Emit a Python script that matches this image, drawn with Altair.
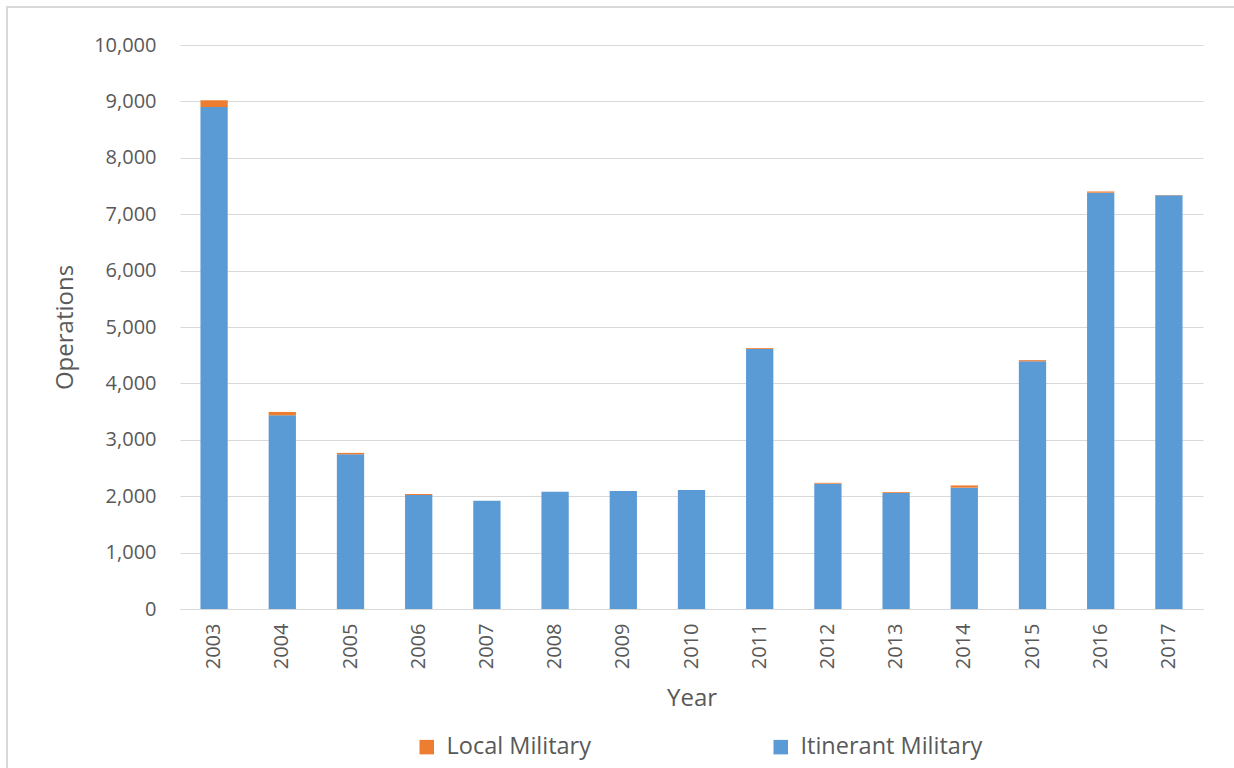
import altair as alt
import pandas as pd

# Annual military operations, split into itinerant and local
years = [str(y) for y in range(2003, 2018)]
itinerant = [8900, 3434, 2743, 2021, 1920, 2080, 2092, 2110, 4610, 2222, 2057, 2151, 4392, 7381, 7335]
local = [120, 60, 25, 18, 0, 0, 0, 0, 15, 15, 15, 40, 20, 22, 5]

series_names = ["Local Military", "Itinerant Military"]
series_colors = ["#ED7D31", "#5B9BD5"]
y_ticks = list(range(0, 10001, 1000))

rows = []
for yr, it, lo in zip(years, itinerant, local):
    rows.append({"Year": yr, "Series": "Itinerant Military", "Operations": it, "stack": 0})
    rows.append({"Year": yr, "Series": "Local Military", "Operations": lo, "stack": 1})
df = pd.DataFrame(rows)

FONT = "Open Sans"
TEXT = "#595959"
GRID = "#D9D9D9"

bars = alt.Chart(df).mark_bar().encode(
    x=alt.X(
        "Year:N",
        sort=years,
        scale=alt.Scale(paddingInner=0.6, paddingOuter=0.3),
        axis=alt.Axis(
            title="Year",
            labelAngle=-90,
            labelAlign="right",
            labelBaseline="middle",
            labelPadding=14,
            ticks=False,
            domainColor=GRID,
            domainWidth=1,
            titlePadding=18,
        ),
    ),
    y=alt.Y(
        "Operations:Q",
        stack="zero",
        scale=alt.Scale(domain=[0, 10000], nice=False),
        axis=alt.Axis(
            title="Operations",
            values=y_ticks,
            format=",.0f",
            ticks=False,
            domain=False,
            gridColor=GRID,
            gridWidth=1,
            labelPadding=24,
            titlePadding=16,
        ),
    ),
    color=alt.Color(
        "Series:N",
        scale=alt.Scale(domain=series_names, range=series_colors),
        legend=alt.Legend(
            title=None,
            orient="none",
            direction="horizontal",
            legendX=235,
            legendY=690,
            symbolType="square",
            symbolSize=210,
            symbolStrokeWidth=0,
            symbolOpacity=1,
            labelFontSize=23.5,
            labelColor=TEXT,
            labelFont=FONT,
            labelOffset=8,
            columnPadding=178,
            labelLimit=400,
        ),
    ),
    order=alt.Order("stack:Q", sort="ascending"),
)

# light frame along the chart's top and left edges
frame = alt.Chart(pd.DataFrame({"f": [0]})).mark_rect(
    fill=None, stroke=GRID, strokeWidth=2
).encode(
    x=alt.value(-173), x2=alt.value(1100), y=alt.value(-38), y2=alt.value(800)
)

chart = alt.layer(frame, bars).properties(
    width=1023,
    height=564,
    background="white",
    autosize=alt.AutoSizeParams(type="none"),
    padding={"left": 180, "top": 45, "right": 31, "bottom": 159},
).configure_view(
    stroke=None
).configure_axis(
    labelFont=FONT,
    labelFontSize=20,
    labelColor=TEXT,
    titleFont=FONT,
    titleFontSize=24,
    titleColor=TEXT,
    titleFontWeight="normal",
)

chart.save("out.html", embed_options={"renderer": "svg", "actions": False})
